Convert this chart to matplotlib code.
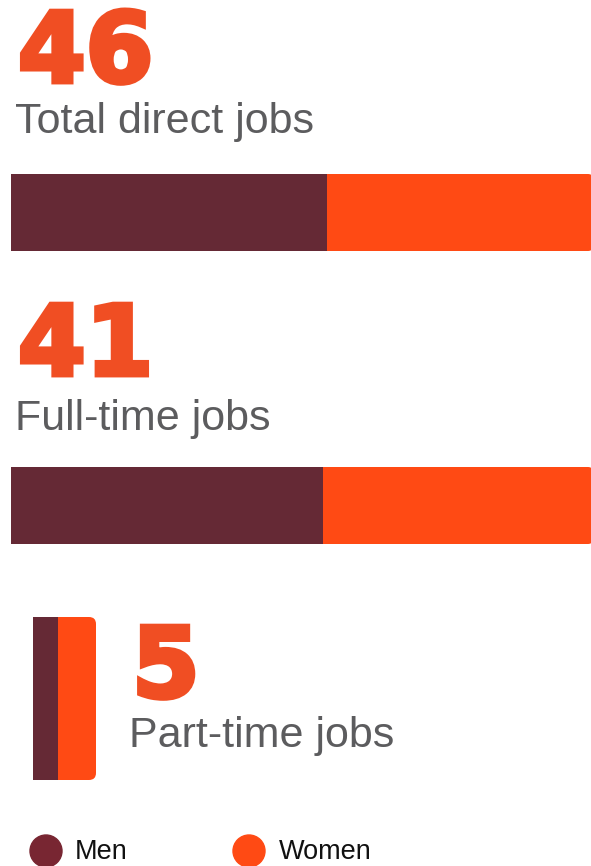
import matplotlib
matplotlib.use("Agg")
import matplotlib.pyplot as plt
import matplotlib.patheffects as pe
from matplotlib.patches import FancyBboxPatch, Circle

# job counts split by gender
labels = ["Total direct jobs", "Full-time jobs", "Part-time jobs"]
totals = [46, 41, 5]
men = [25, 22, 2]
women = [21, 19, 3]

men_color = "#652935"
women_color = "#FF4A14"
number_color = "#F04E23"
label_color = "#5C5C5E"

W, H = 591, 866
fig = plt.figure(figsize=(W / 100, H / 100), dpi=100)
fig.patch.set_facecolor("white")


def fx(px):
    return px / W


def fy(py):
    return 1 - py / H


def stacked_bar(left, top, right, bottom, m, w, radius):
    # axes placed in pixel box, one stacked bar filling it
    ax = fig.add_axes([fx(left), fy(bottom), fx(right - left), (bottom - top) / H])
    total = m + w
    ax.set_xlim(0, total)
    ax.set_ylim(0, 1)
    ax.axis("off")
    xpp = total / (right - left)
    ypp = 1 / (bottom - top)
    # women segment gets the rounded right end
    box = FancyBboxPatch((m, 0), w, 1,
                         boxstyle=f"round,pad=0,rounding_size={radius * xpp}",
                         mutation_aspect=ypp / xpp,
                         facecolor=women_color, edgecolor="none", clip_on=False)
    ax.add_patch(box)
    ax.barh(0.5, m, height=1, left=0, color=men_color, edgecolor="none", zorder=3)
    ax.barh(0.5, radius * xpp * 2, height=1, left=m, color=women_color,
            edgecolor="none", zorder=2)
    return ax


heavy = [pe.Stroke(linewidth=3.5, foreground=number_color, joinstyle="miter"),
         pe.Normal()]


def headline(x, num_base, value, label_base, label):
    fig.text(fx(x + 2), fy(num_base - 1), str(value), color=number_color,
             fontsize=70, fontweight="bold", family="DejaVu Sans", va="baseline",
             path_effects=heavy)
    fig.text(fx(x - 1), fy(label_base), label, color=label_color,
             fontsize=31, family="Liberation Sans", va="baseline")


headline(16, 83, totals[0], 133, labels[0])
stacked_bar(11, 174, 593, 251, men[0], women[0], 5)

headline(16, 376, totals[1], 430, labels[1])
stacked_bar(11, 467, 593, 544, men[1], women[1], 5)

headline(130, 698, totals[2], 747, labels[2])
stacked_bar(33, 617, 96, 780, men[2], women[2], 7)

# legend
lax = fig.add_axes([0, 0, 1, 1])
lax.set_xlim(0, W)
lax.set_ylim(H, 0)
lax.axis("off")
lax.add_patch(Circle((46, 851), 16, color="#782632"))
lax.add_patch(Circle((249, 851), 16, color=women_color))
lax.text(75, 865, "Men", fontsize=19.5, family="Liberation Sans", va="bottom", color="#111111")
lax.text(279, 865, "Women", fontsize=19.5, family="Liberation Sans", va="bottom", color="#111111")

fig.savefig("out.png", dpi=100)
